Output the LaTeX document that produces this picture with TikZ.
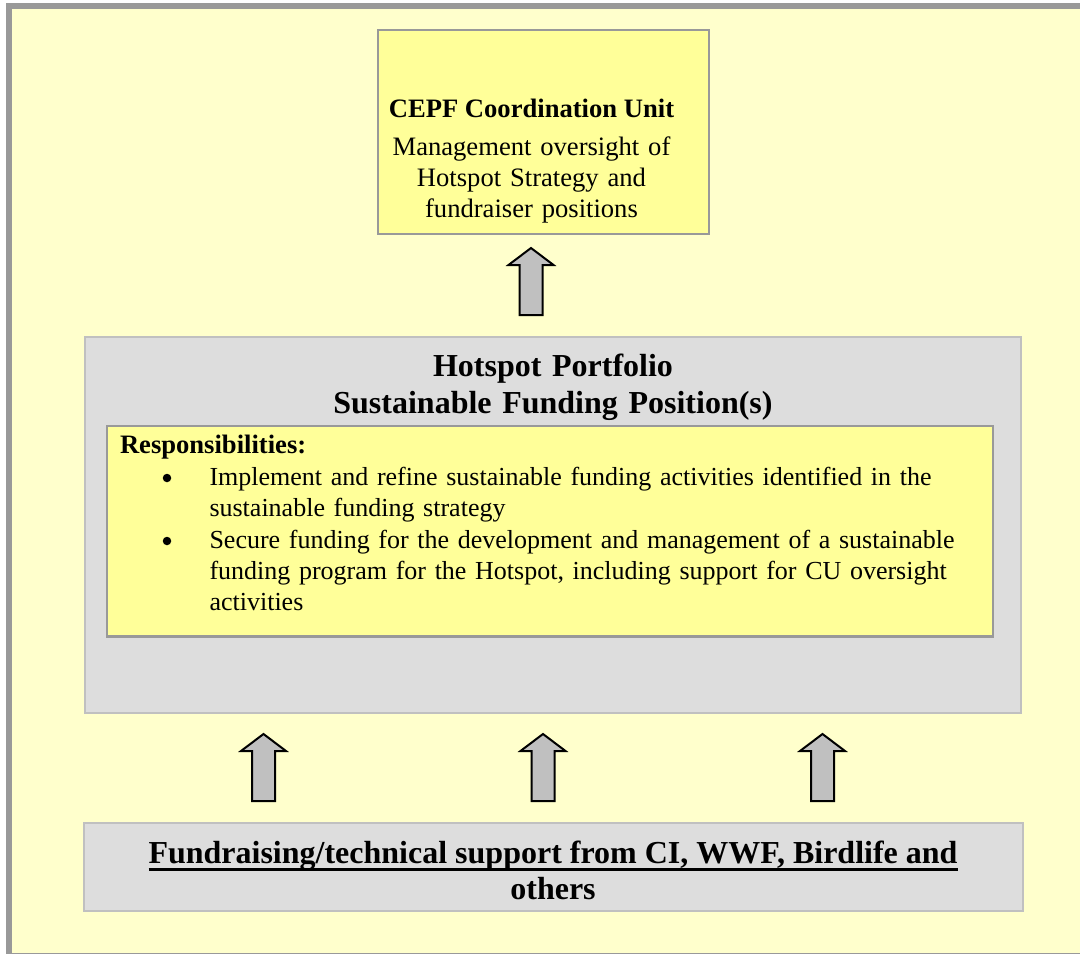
\documentclass[tikz,border=0pt]{standalone}
\usepackage{fontspec}
\setmainfont{Liberation Serif}
\definecolor{paleyellow}{HTML}{FFFFCC}
\definecolor{boxyellow}{HTML}{FFFF99}
\definecolor{boxgray}{HTML}{DDDDDD}
\definecolor{lightborder}{HTML}{C0C0C0}
\definecolor{midgray}{HTML}{999999}
\definecolor{outergray}{HTML}{999999}
\definecolor{arrowgray}{HTML}{C0C0C0}
\begin{document}
\begin{tikzpicture}[x=1pt,y=-1pt,
  box/.style={draw, inner sep=0pt, outer sep=0pt, anchor=north west},
  txt/.style={inner sep=0pt, outer sep=0pt},
  body/.style={font=\fontsize{26.6}{31.4}\selectfont},
  itembody/.style={font=\fontsize{26.0}{31.4}\selectfont},
  bodybold/.style={font=\fontsize{26.6}{31.4}\selectfont\bfseries},
  head/.style={font=\fontsize{32}{36.7}\selectfont\bfseries},
  bulletdot/.style={circle, fill=black, inner sep=0pt, minimum size=8.5pt},
  blockarrow/.pic={\draw[fill=arrowgray, line width=2pt, line join=miter]
     (0,0) -- (22.5,17) -- (11.5,17) -- (11.5,67) -- (-11.5,67) -- (-11.5,17) -- (-22.5,17) -- cycle;}
]
\useasboundingbox (0,0) rectangle (1080,954);
\fill[white] (0,0) rectangle (1080,954);
\fill[paleyellow] (6,3) rectangle (1080,954);
\draw[outergray, line width=5.5pt, line join=miter] (8.85,954) -- (8.85,6) -- (1080,6);
\draw[outergray, line width=1.2pt] (6,953.3) -- (1080,953.3);

% top box
\node[box, fill=boxyellow, draw=midgray, line width=1.5pt, minimum width=331pt, minimum height=204pt] (cu) at (378,30) {};
\node[txt, bodybold, anchor=base] (cutitle) at (531.5,117.3) {CEPF Coordination Unit};
\node[txt, body, anchor=base, text width=320pt, align=center] (cutext) at (531.5,155) {Management oversight of\\Hotspot Strategy and\\fundraiser positions};

\pic at (531,248) {blockarrow};

% middle box
\node[box, fill=boxgray, draw=lightborder, line width=2pt, minimum width=936pt, minimum height=376pt] (portfolio) at (85,337) {};
\node[txt, head, anchor=base, text width=700pt, align=center] (ptitle) at (553,376.7) {Hotspot Portfolio\\Sustainable Funding Position(s)};

\node[box, fill=boxyellow, draw=midgray, line width=2.5pt, minimum width=886pt, minimum height=210.7pt] (resp) at (107,426) {};
\node[txt, bodybold, anchor=base west] (resphead) at (120,453) {Responsibilities:};
\node[bulletdot] (bul1) at (167,478) {};
\node[txt, itembody, anchor=base west, text width=775pt, align=left] (item1) at (209.5,485) {Implement and refine sustainable funding activities identified in the\\sustainable funding strategy};
\node[bulletdot] (bul2) at (167,541) {};
\node[txt, itembody, anchor=base west, text width=775pt, align=left] (item2) at (209.5,548) {Secure funding for the development and management of a sustainable\\funding program for the Hotspot, including support for CU oversight\\activities};

\pic at (263.5,734) {blockarrow};
\pic at (543,734) {blockarrow};
\pic at (822.5,734) {blockarrow};

% bottom box
\node[box, fill=boxgray, draw=lightborder, line width=2pt, minimum width=938.7pt, minimum height=88pt] (support) at (84,823) {};
\node[txt, head, anchor=base] (s1) at (553,863) {Fundraising/technical support from CI, WWF, Birdlife and};
\node[txt, head, anchor=base] (s2) at (553,899.7) {others};
\draw[line width=2.6pt] ([yshift=-6.5pt]s1.base west) -- ([yshift=-6.5pt]s1.base east);
\end{tikzpicture}
\end{document}
